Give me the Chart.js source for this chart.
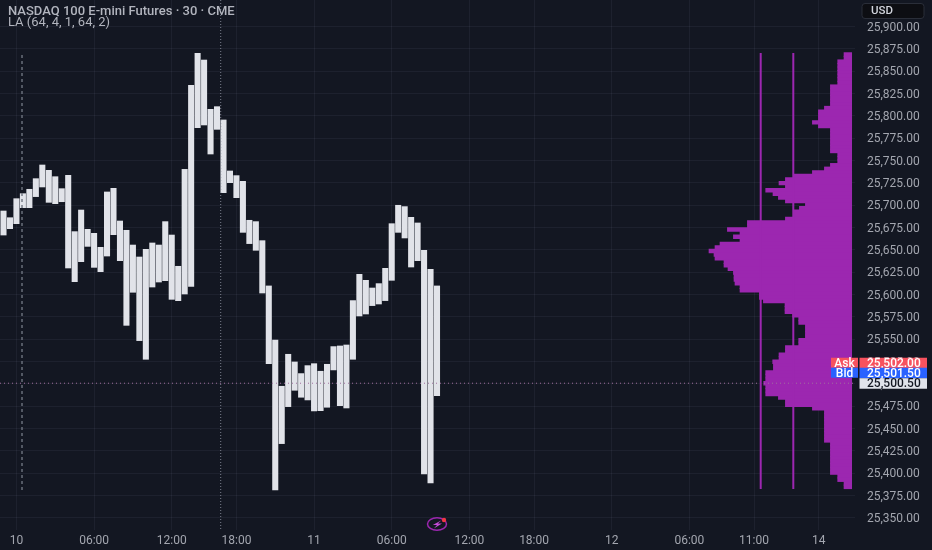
<!DOCTYPE html>
<html>
<head>
<meta charset="utf-8">
<style>
  html, body { margin: 0; padding: 0; background: #131722; }
  canvas { display: block; }
</style>
<script src="https://cdn.jsdelivr.net/npm/chart.js@4"></script>
</head>
<body>
<canvas id="chart" width="932" height="550"></canvas>
<script>
// bars, one per 30 minutes
const barHighs = [
  25693.3, 25685.8, 25707.1, 25712.7, 25717.6, 25729.5, 25744.8, 25738.8, 25731.7, 25718.3,
  25733.2, 25670.2, 25694.4, 25672.8, 25668.3, 25652.6, 25714.6, 25718.7, 25682.1, 25671.7,
  25655.2, 25641.8, 25650.4, 25657.5, 25655.2, 25681.4, 25666.4, 25631.4, 25739.9, 25834.0,
  25869.8, 25862.3, 25807.1, 25810.1, 25795.2, 25738.1, 25732.9, 25726.5, 25682.9, 25681.4,
  25660.1, 25609.4, 25548.9, 25497.1, 25532.9, 25524.3, 25511.3, 25520.2, 25522.4, 25513.9,
  25521.7, 25541.5, 25542.2, 25543.3, 25593.0, 25622.4, 25615.7, 25607.1, 25612.0, 25629.1,
  25679.1, 25699.7, 25698.2, 25686.2, 25679.9, 25649.3, 25628.0, 25609.4
];
const barLows = [
  25666.4, 25673.5, 25679.1, 25697.0, 25697.0, 25709.4, 25720.2, 25703.0, 25701.5, 25703.7,
  25629.5, 25614.2, 25636.6, 25653.7, 25630.2, 25625.4, 25642.9, 25666.8, 25637.7, 25565.3,
  25602.3, 25548.2, 25527.3, 25608.2, 25613.8, 25615.3, 25594.4, 25592.9, 25600.4, 25609.0,
  25786.6, 25789.6, 25757.1, 25784.7, 25713.8, 25725.0, 25708.2, 25669.4, 25656.8, 25649.3,
  25601.5, 25522.4, 25381.0, 25432.9, 25474.3, 25492.6, 25484.8, 25481.8, 25469.5, 25469.8,
  25473.6, 25515.4, 25475.4, 25472.8, 25527.3, 25575.8, 25578.0, 25587.4, 25589.2, 25593.0,
  25615.7, 25669.4, 25663.1, 25630.6, 25637.7, 25398.9, 25388.9, 25486.6
];

// volume profile rows
const profilePrices = [
  25868.5, 25864.5, 25860.5, 25856.5, 25852.5, 25848.5, 25844.5, 25840.5, 25836.5, 25832.5,
  25828.5, 25824.5, 25820.5, 25816.5, 25812.5, 25808.5, 25804.5, 25800.5, 25796.5, 25792.5,
  25788.5, 25784.5, 25780.5, 25776.5, 25772.5, 25768.5, 25764.5, 25760.5, 25756.5, 25752.5,
  25748.5, 25744.5, 25740.5, 25736.5, 25732.5, 25728.5, 25724.5, 25720.5, 25716.5, 25712.5,
  25708.5, 25704.5, 25700.5, 25696.5, 25692.5, 25688.5, 25684.5, 25680.5, 25676.5, 25672.5,
  25668.5, 25664.5, 25660.5, 25656.5, 25652.5, 25648.5, 25644.5, 25640.5, 25636.5, 25632.5,
  25628.5, 25624.5, 25620.5, 25616.5, 25612.5, 25608.5, 25604.5, 25600.5, 25596.5, 25592.5,
  25588.5, 25584.5, 25580.5, 25576.5, 25572.5, 25568.5, 25564.5, 25560.5, 25556.5, 25552.5,
  25548.5, 25544.5, 25540.5, 25536.5, 25532.5, 25528.5, 25524.5, 25520.5, 25516.5, 25512.5,
  25508.5, 25504.5, 25500.5, 25496.5, 25492.5, 25488.5, 25484.5, 25480.5, 25476.5, 25472.5,
  25468.5, 25464.5, 25460.5, 25456.5, 25452.5, 25448.5, 25444.5, 25440.5, 25436.5, 25432.5,
  25428.5, 25424.5, 25420.5, 25416.5, 25412.5, 25408.5, 25404.5, 25400.5, 25396.5, 25392.5,
  25388.5, 25384.5
];
const profileVolumes = [
  7.7, 7.7, 14, 14, 14, 14, 14, 14, 14, 21.3,
  21.3, 21.3, 21.3, 21.3, 21.3, 27.3, 33.3, 33.3, 33.3, 39.3,
  33.3, 21.3, 21.3, 21.3, 21.3, 21.3, 21.3, 21.3, 14, 14,
  14, 21.3, 27.3, 39.3, 58.3, 66.3, 72.7, 66.3, 86, 78.7,
  73.3, 66.3, 46.3, 52.3, 58.3, 58.3, 66.3, 104.3, 104.3, 124.3,
  111.7, 118.3, 111.7, 131.7, 136.7, 142.7, 137.7, 136.7, 127.7, 127.7,
  123.7, 118.3, 117.7, 117.7, 116.7, 111.7, 111.7, 92.3, 92.3, 88.3,
  66.7, 66.7, 66.7, 59, 53, 53, 46.3, 46.3, 46.3, 46.3,
  53, 53, 66.3, 66.3, 72.7, 72.7, 79, 78.3, 78.3, 86,
  86, 86, 88, 86, 86, 86, 73.3, 66.3, 66.3, 39.3,
  27.3, 27.3, 27.3, 27.3, 27.3, 27.3, 27.3, 27.3, 27.3, 21.3,
  21.3, 21.3, 21.3, 21.3, 21.3, 21.3, 21.3, 21.3, 14, 14,
  7.7, 7.7
];

// the two vertical thresholds of the profile
const volumeLevels = [91, 58.4];
const levelTop = 25870.2;
const levelBottom = 25382;

// axes
const timeTickSlots = [2, 14, 26, 36, 48, 60, 72, 82, 94, 106, 116, 126];
const timeTickLabels = ['10', '06:00', '12:00', '18:00', '11', '06:00', '12:00', '18:00', '12', '06:00', '11:00', '14'];
const priceTicks = [
  25900, 25875, 25850, 25825, 25800, 25775, 25750, 25725, 25700, 25675, 25650, 25625,
  25600, 25575, 25550, 25525, 25500, 25475, 25450, 25425, 25400, 25375, 25350
];

// session markers and last price
const sessionDashSlot = 2.86;
const sessionDashTop = 25868;
const sessionDashBottom = 25381;
const sessionDotSlot = 33.57;
const lastPrice = 25500.5;
const bidPrice = 25501.5;
const askPrice = 25502;

const X_MIN = -0.541, X_MAX = 131.6;
const Y_MIN = 25336.2, Y_MAX = 25929.5;
const FONT = 'Roboto, "Noto Sans", sans-serif';

function money(v) {
  return v.toLocaleString('en-US', { minimumFractionDigits: 2, maximumFractionDigits: 2 });
}

function vLine(data, color, dash, width, xAxisID) {
  return {
    type: 'line', data, xAxisID: xAxisID || 'x', yAxisID: 'y',
    borderColor: color, borderDash: dash, borderWidth: width,
    pointRadius: 0, fill: false, tension: 0
  };
}

// everything that is not a mark: header texts, price tags, icon
const overlayPlugin = {
  id: 'overlay',
  afterDraw(chart) {
    const ctx = chart.ctx, y = chart.scales.y;
    ctx.save();
    ctx.textBaseline = 'middle';

    // header
    ctx.textAlign = 'left';
    ctx.fillStyle = '#b2b5be';
    ctx.font = '500 13px ' + FONT;
    ctx.fillText('NASDAQ 100 E-mini Futures · 30 · CME', 8, 11.5);
    ctx.font = '13px ' + FONT;
    ctx.fillText('LA (64, 4, 1, 64, 2)', 8, 22.5);

    // currency box
    ctx.beginPath();
    ctx.roundRect(862, 3.5, 62, 15, 3);
    ctx.fillStyle = '#0d0e13';
    ctx.fill();
    ctx.strokeStyle = '#2a2e39';
    ctx.stroke();
    ctx.fillStyle = '#d1d4dc';
    ctx.font = '500 11.5px ' + FONT;
    ctx.fillText('USD', 871, 11.5);

    // price tags
    const tagX = 859.5, tagW = 67.5;
    const yLast = y.getPixelForValue(lastPrice);
    const tags = [
      { name: 'Ask', price: askPrice, bg: '#f7525f', top: yLast - 25.5, fg: '#ffffff' },
      { name: 'Bid', price: bidPrice, bg: '#2962ff', top: yLast - 15.5, fg: '#ffffff' },
      { price: lastPrice, bg: '#e0e3eb', top: yLast - 5, fg: '#131722' }
    ];
    ctx.font = '500 12px ' + FONT;
    tags.forEach(t => {
      ctx.fillStyle = t.bg;
      ctx.fillRect(tagX, t.top, tagW, 10.5);
      if (t.name) ctx.fillRect(831, t.top, 27, 10);
      ctx.fillStyle = t.fg;
      ctx.textAlign = 'left';
      ctx.fillText(money(t.price), 867, t.top + 6);
      if (t.name) {
        ctx.textAlign = 'center';
        ctx.fillText(t.name, 844.5, t.top + 6);
      }
    });

    // lightning badge
    ctx.beginPath();
    ctx.ellipse(437, 524, 9.5, 6.3, 0, 0, Math.PI * 2);
    ctx.strokeStyle = '#9c27b0';
    ctx.lineWidth = 1.5;
    ctx.stroke();
    ctx.beginPath();
    ctx.moveTo(441.5, 520.2);
    ctx.lineTo(432.8, 525);
    ctx.lineTo(437, 525);
    ctx.lineTo(433.8, 528.6);
    ctx.lineTo(442, 523.4);
    ctx.lineTo(437.8, 523.4);
    ctx.closePath();
    ctx.fillStyle = '#c44ad8';
    ctx.fill();
    ctx.beginPath();
    ctx.arc(444, 520, 2.2, 0, Math.PI * 2);
    ctx.fillStyle = '#f23645';
    ctx.fill();
    ctx.restore();
  }
};

const bgPlugin = {
  id: 'bg',
  beforeDraw(chart) {
    chart.ctx.fillStyle = '#131722';
    chart.ctx.fillRect(0, 0, chart.width, chart.height);
  }
};

new Chart(document.getElementById('chart'), {
  type: 'bar',
  data: {
    datasets: [
      // profile, grows leftwards from the price axis
      {
        type: 'bar', indexAxis: 'y', xAxisID: 'xv', yAxisID: 'y',
        data: profilePrices.map((p, i) => ({ x: profileVolumes[i], y: p })),
        backgroundColor: '#9c27b0', borderWidth: 0, barThickness: 3.8, grouped: false, order: 2
      },
      // price bars
      {
        type: 'bar', xAxisID: 'x', yAxisID: 'y',
        data: barHighs.map((h, i) => ({ x: i, y: [barLows[i], h] })),
        backgroundColor: '#e1e3e9', borderWidth: 0, barThickness: 5.4, grouped: false, order: 1
      },
      vLine([{ x: volumeLevels[0], y: levelTop }, { x: volumeLevels[0], y: levelBottom }], '#9c27b0', [], 2, 'xv'),
      vLine([{ x: volumeLevels[1], y: levelTop }, { x: volumeLevels[1], y: levelBottom }], '#9c27b0', [], 2, 'xv'),
      vLine([{ x: sessionDashSlot, y: sessionDashTop }, { x: sessionDashSlot, y: sessionDashBottom }], '#6f7480', [3, 3], 1.4),
      vLine([{ x: sessionDotSlot, y: Y_MAX }, { x: sessionDotSlot, y: Y_MIN }], '#7d828e', [1, 2], 1),
      vLine([{ x: X_MIN, y: lastPrice }, { x: X_MAX, y: lastPrice }], '#a0709e', [1, 3], 1)
    ]
  },
  options: {
    responsive: false,
    animation: false,
    events: [],
    layout: { padding: 0 },
    plugins: { legend: { display: false }, tooltip: { enabled: false } },
    scales: {
      x: {
        type: 'linear', min: X_MIN, max: X_MAX, offset: false,
        afterBuildTicks: s => { s.ticks = timeTickSlots.map(v => ({ value: v })); },
        afterFit: s => { s.height = 20; s.paddingLeft = 0; s.paddingRight = 0; },
        grid: { color: 'rgba(200,210,235,0.06)', offset: false, drawTicks: false },
        border: { display: false },
        ticks: {
          autoSkip: false, maxRotation: 0, padding: 4, color: '#a3a6af',
          font: { family: FONT, size: 12 },
          callback: v => timeTickLabels[timeTickSlots.indexOf(v)]
        }
      },
      xv: {
        type: 'linear', display: false, reverse: true, min: -3.3, max: 851.7, offset: false,
        grid: { display: false }
      },
      y: {
        type: 'linear', position: 'right', min: Y_MIN, max: Y_MAX, offset: false,
        afterBuildTicks: s => { s.ticks = priceTicks.map(v => ({ value: v })); },
        afterFit: s => { s.width = 77; s.paddingTop = 0; s.paddingBottom = 0; },
        grid: { color: 'rgba(200,210,235,0.06)', offset: false, drawTicks: false },
        border: { display: false },
        ticks: {
          autoSkip: false, padding: 12, color: '#a3a6af', labelOffset: 1.3,
          font: { family: FONT, size: 12 },
          callback: v => money(v)
        }
      }
    }
  },
  plugins: [bgPlugin, overlayPlugin]
});
</script>
</body>
</html>
